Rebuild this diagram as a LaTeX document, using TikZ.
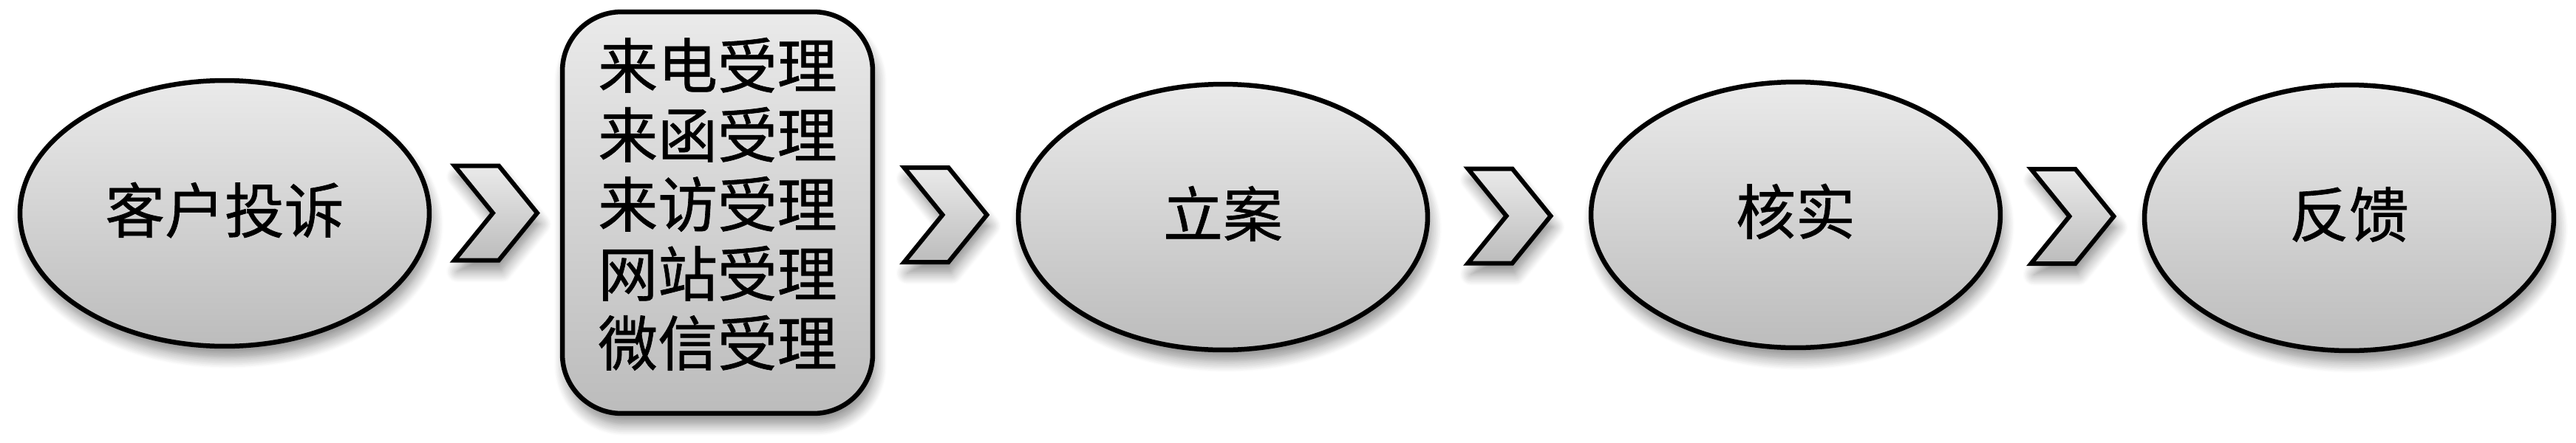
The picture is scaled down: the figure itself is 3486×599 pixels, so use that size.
\documentclass[tikz,border=0pt]{standalone}
\usepackage{fontspec}
\newfontfamily\cjk[FakeBold=0.8]{Noto Sans CJK SC}
\usetikzlibrary{shapes.geometric,shadows.blur,calc}
\definecolor{gtop}{RGB}{234,234,234}
\definecolor{gbot}{RGB}{188,188,188}
\tikzset{
  softshadow/.style={blur shadow={shadow xshift=0.08cm, shadow yshift=-0.3cm, shadow blur steps=10, shadow blur radius=0.3cm, shadow opacity=45}},
  shadebox/.style={draw=black, line width=0.13cm, top color=gtop, bottom color=gbot, softshadow},
  stage/.style={shadebox, ellipse, minimum width=11.08cm, minimum height=7.2cm, inner sep=0pt, text depth=9pt, font=\cjk\fontsize{46}{54}\selectfont},
  listbox/.style={shadebox, rounded corners=1.6cm, minimum width=8.4cm, minimum height=10.88cm, inner sep=0pt, align=center, text depth=17pt, font=\cjk\fontsize{46}{53.5}\selectfont},
  chevline/.style={draw=black, line width=0.12cm, line join=miter, top color=gtop, bottom color=gbot, softshadow},
  chevron/.pic={\path[chevline] (-56,-64) -- (4,-64) -- (56,0) -- (4,64) -- (-56,64) -- (-4,0) -- cycle;}
}
\begin{document}
\begin{tikzpicture}[x=0.02cm,y=-0.02cm]
\useasboundingbox (0,0) rectangle (3486,599);
\node[stage] (e1) at (304,289) {客户投诉};
\node[listbox] (box) at (971,288) {来电受理\\来函受理\\来访受理\\网站受理\\微信受理};
\node[stage] (e2) at (1655,294) {立案};
\node[stage] (e3) at (2430,291) {核实};
\node[stage] (e4) at (3179,295) {反馈};
\coordinate (c1) at ($(e1.east)!0.5!(box.west)$);
\coordinate (c2) at ($(box.east)!0.5!(e2.west)$);
\coordinate (c3) at ($(e2.east)!0.5!(e3.west)$);
\coordinate (c4) at ($(e3.east)!0.5!(e4.west)$);
\pic at (c1) {chevron};
\pic at (c2) {chevron};
\pic at (c3) {chevron};
\pic at (c4) {chevron};
\end{tikzpicture}
\end{document}
